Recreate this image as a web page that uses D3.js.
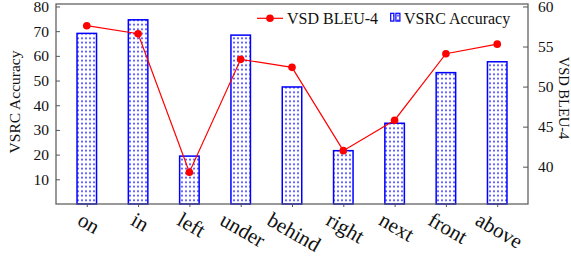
<!DOCTYPE html>
<html><head><meta charset="utf-8">
<script src="https://cdn.jsdelivr.net/npm/d3@7"></script>
<style>body{margin:0;background:#fff}svg{display:block}text{font-family:"Liberation Serif","Times New Roman",serif;fill:#111}</style>
</head><body><svg id="c" width="571" height="257"></svg>
<script>
const categories = ["on","in","left","under","behind","right","next","front","above"];
const vsrcAccuracy = [69.1, 74.6, 19.4, 68.4, 47.4, 21.6, 32.7, 53.2, 57.6];
const vsdBleu4 = [57.6, 56.6, 39.3, 53.4, 52.4, 42.0, 45.8, 54.1, 55.3];
const leftTicks = [10,20,30,40,50,60,70,80];
const rightTicks = [40,45,50,55,60];

const svg = d3.select("#c");
const L = 56, R = 528, T = 4, B = 204;
const axisColor = "#555";

const defs = svg.append("defs");
const pat = defs.append("pattern").attr("id","dots").attr("patternUnits","userSpaceOnUse")
  .attr("width",4).attr("height",4.5);
pat.append("rect").attr("width",4).attr("height",4.5).attr("fill","#fff");
pat.append("rect").attr("x",1.2).attr("y",1.4).attr("width",1.6).attr("height",1.6).attr("fill","#1a1aff");

const x = d3.scalePoint().domain(categories).range([L, R]).padding(0.6);
const yL = d3.scaleLinear().domain([0, 81]).range([B, T]);
const yR = d3.scaleLinear().domain([35.34, 60.31]).range([B, T]);

// bars
const bw = 19.5;
svg.append("g").selectAll("rect").data(categories).join("rect")
  .attr("x", d => x(d) - bw/2).attr("width", bw)
  .attr("y", (d,i) => yL(vsrcAccuracy[i]))
  .attr("height", (d,i) => B - yL(vsrcAccuracy[i]))
  .attr("fill","url(#dots)").attr("stroke","#0000ff").attr("stroke-width",1.5);

// frame
svg.append("rect").attr("x",L).attr("y",T).attr("width",R-L).attr("height",B-T)
  .attr("fill","none").attr("stroke",axisColor).attr("stroke-width",1.2);

// left axis
const gl = svg.append("g").attr("transform",`translate(${L},0)`)
  .call(d3.axisLeft(yL).tickValues(leftTicks).tickSizeInner(-4).tickSizeOuter(0).tickPadding(7));
gl.select(".domain").remove();
gl.selectAll(".tick line").attr("stroke",axisColor);
gl.selectAll(".tick text").style("font-size","15.5px").attr("fill","#111");

// right axis
const gr = svg.append("g").attr("transform",`translate(${R},0)`)
  .call(d3.axisRight(yR).tickValues(rightTicks).tickSizeInner(-5).tickSizeOuter(0).tickPadding(10));
gr.select(".domain").remove();
gr.selectAll(".tick line").attr("stroke",axisColor);
gr.selectAll(".tick text").style("font-size","15.5px").attr("fill","#111");

// bottom axis
const gb = svg.append("g").attr("transform",`translate(0,${B})`)
  .call(d3.axisBottom(x).tickSizeInner(3).tickSizeOuter(0));
gb.select(".domain").remove();
gb.selectAll(".tick line").attr("stroke",axisColor);
gb.selectAll(".tick text").remove();
// rotated x labels
const xl = svg.append("g");
categories.forEach(c => {
  const t = xl.append("text").text(c).style("font-size","21px")
    .attr("text-anchor","middle").attr("dominant-baseline","central");
  const w = t.node().getComputedTextLength();
  const h = 16;
  const cx = x(c) + 2, cy = 211 + 0.25*w + 0.433*h;
  t.attr("transform",`translate(${cx},${cy}) rotate(30)`);
});

// line
const line = d3.line().x((d,i)=>x(categories[i])).y(d=>yR(d));
svg.append("path").datum(vsdBleu4).attr("d",line).attr("fill","none")
  .attr("stroke","#ff0000").attr("stroke-width",1.2);
svg.append("g").selectAll("circle").data(vsdBleu4).join("circle")
  .attr("cx",(d,i)=>x(categories[i])).attr("cy",d=>yR(d)).attr("r",3.8).attr("fill","#ff0000");

// axis titles
svg.append("text").text("VSRC Accuracy").style("font-size","15.5px")
  .attr("text-anchor","middle").attr("dominant-baseline","central")
  .attr("transform","translate(14,102) rotate(-90)");
svg.append("text").text("VSD BLEU-4").style("font-size","14.5px")
  .attr("text-anchor","middle").attr("dominant-baseline","central")
  .attr("transform","translate(564,98) rotate(90)");

// legend
const lg = svg.append("g");
lg.append("line").attr("x1",257).attr("x2",283).attr("y1",18.3).attr("y2",18.3)
  .attr("stroke","#ff0000").attr("stroke-width",1.2);
lg.append("circle").attr("cx",270).attr("cy",18.3).attr("r",3.8).attr("fill","#ff0000");
lg.append("text").text("VSD BLEU-4").attr("x",287).attr("y",24).style("font-size","16px");
[[390.7,3.2],[395.9,4]].forEach(([lx,lw])=>{
  lg.append("rect").attr("x",lx).attr("y",13.3).attr("width",lw).attr("height",7.8)
    .attr("fill","url(#dots)").attr("stroke","#0000ff").attr("stroke-width",1.2);
});
lg.append("text").text("VSRC Accuracy").attr("x",404).attr("y",24).style("font-size","16px");
</script></body></html>
